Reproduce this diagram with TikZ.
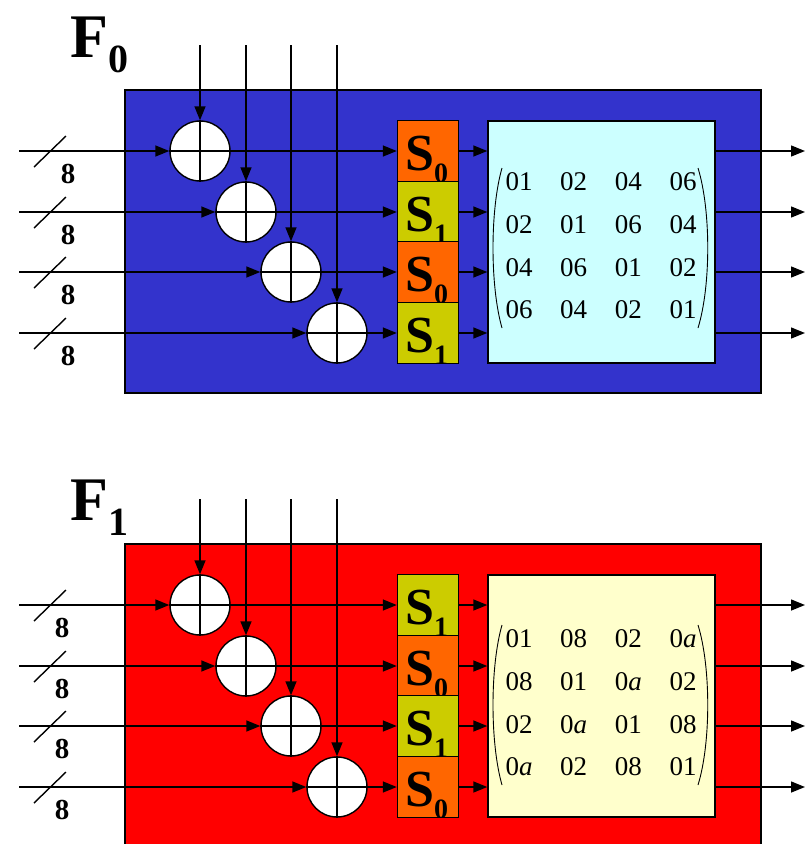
\documentclass[tikz,border=0pt]{standalone}
\usepackage{fontspec}
\setmainfont{Liberation Serif}
\usetikzlibrary{arrows.meta,calc}
\definecolor{pblue}{HTML}{3333CC}
\definecolor{pred}{HTML}{FF0000}
\definecolor{sorange}{HTML}{FF6600}
\definecolor{solive}{HTML}{CCCC00}
\definecolor{mcyan}{HTML}{CCFFFF}
\definecolor{myellow}{HTML}{FFFFCC}
\tikzset{
 ln/.style={line width=1.4pt},
 arr/.style={ln,-{Triangle[length=14pt,width=11pt]}},
 panelbox/.style={draw,line width=1.4pt,minimum width=636pt,minimum height=303pt,inner sep=0},
 xorc/.style={circle,draw,fill=white,line width=1.4pt,minimum size=60pt,inner sep=0},
 sbox/.style={draw,line width=1.4pt,minimum width=61pt,minimum height=60.5pt,inner sep=0},
 mbox/.style={draw,line width=1.4pt,minimum width=227pt,minimum height=242pt,inner sep=0},
 bigS/.style={inner sep=0,font=\fontsize{52}{52}\selectfont\bfseries},
 subS/.style={inner sep=0,font=\fontsize{28}{28}\selectfont\bfseries},
 eight/.style={inner sep=0,font=\fontsize{29}{29}\selectfont\bfseries},
 entry/.style={inner sep=0,font=\fontsize{27}{27}\selectfont},
 bigF/.style={inner sep=0,font=\fontsize{62}{62}\selectfont\bfseries},
 subF/.style={inner sep=0,font=\fontsize{40}{40}\selectfont\bfseries},
 paren/.style={line width=0.9pt},
}
% #1 prefix, #2 y offset, #3 fill, #4 matrix fill, #5 F subscript,
% #6 dy of F label, #7 x of 8 labels, #8 S subscripts, #9 matrix entries
\newcommand\drawpanel[9]{%
\begin{scope}[shift={(0,#2)}]
 \node[panelbox,fill=#3] (#1box) at (443,241.5) {};
 \node[bigF,anchor=base west] (#1F) at (70,57+#6) {F};
 \node[subF,anchor=base west] (#1Fs) at (108,72+#6) {#5};
 \node[mbox,fill=#4] (#1m) at (601.5,242) {};
 \foreach \s [count=\i] in {#8} {
  \pgfmathsetmacro\ry{round(151+60.5*(\i-1))}
  \pgfmathsetmacro\cx{round(200+45.67*(\i-1))}
  \ifnum\s=0 \def\sc{sorange}\else\def\sc{solive}\fi
  \coordinate (#1in\i) at (19,\ry);
  \coordinate (#1top\i) at (\cx,45);
  \coordinate (#1out\i) at (805,\ry);
  \node[xorc] (#1x\i) at (\cx,\ry) {};
  \node[sbox,fill=\sc] (#1s\i) at (428,\ry) {};
  \begin{scope}
   \clip (#1s\i.south west) rectangle (#1s\i.north east);
   \node[bigS,anchor=base west] (#1S\i) at (405,\ry+19) {S};
   \node[subS,anchor=base west] (#1Ss\i) at (434,\ry+31) {\s};
  \end{scope}
  \node[eight,anchor=base] (#1e\i) at (#7,\ry+32) {8};
  \draw[ln] ($(#1in\i)+(15,16)$) -- ($(#1in\i)+(47,-15)$);
  \draw[arr] (#1in\i) -- (#1x\i.west);
  \draw[arr] (#1x\i.east) -- (#1s\i.west);
  \draw[arr] (#1s\i.east) -- (#1s\i.east -| #1m.west);
  \draw[arr] (#1out\i -| #1m.east) -- (#1out\i);
 }
 \foreach \i in {1,...,4} {
  \draw[arr] (#1top\i) -- (#1x\i.north);
  \draw[ln] (#1x\i.north) -- (#1x\i.south) (#1x\i.west) -- (#1x\i.east);
 }
 \foreach \e [count=\k from 0] in {#9} {
  \pgfmathtruncatemacro\r{div(\k,4)}
  \pgfmathtruncatemacro\c{mod(\k,4)}
  \node[entry] (#1e\r\c) at (519+54.7*\c,182+\mdy+42.7*\r) {\e};
 }
 \coordinate (#1pl) at (502,168+\mdy);
 \coordinate (#1pr) at (698,168+\mdy);
 \draw[paren] (#1pl) .. controls ($(#1pl)+(-12,42)$) and ($(#1pl)+(-12,118)$) .. ($(#1pl)+(0,160)$);
 \draw[paren] (#1pr) .. controls ($(#1pr)+(13,42)$) and ($(#1pr)+(13,118)$) .. ($(#1pr)+(0,160)$);
\end{scope}}
\begin{document}
\begin{tikzpicture}[x=1pt,y=-1pt]
\useasboundingbox (0,0) rectangle (807,844);
\clip (0,0) rectangle (807,844);
\def\mdy{0}
\drawpanel{a}{0}{pblue}{mcyan}{0}{0}{68}{0,1,0,1}{01,02,04,06,02,01,06,04,04,06,01,02,06,04,02,01}
\def\mdy{3}
\drawpanel{b}{454}{pred}{myellow}{1}{9}{62}{1,0,1,0}{01,08,02,0\textit{a},08,01,0\textit{a},02,02,0\textit{a},01,08,0\textit{a},02,08,01}
\end{tikzpicture}
\end{document}
